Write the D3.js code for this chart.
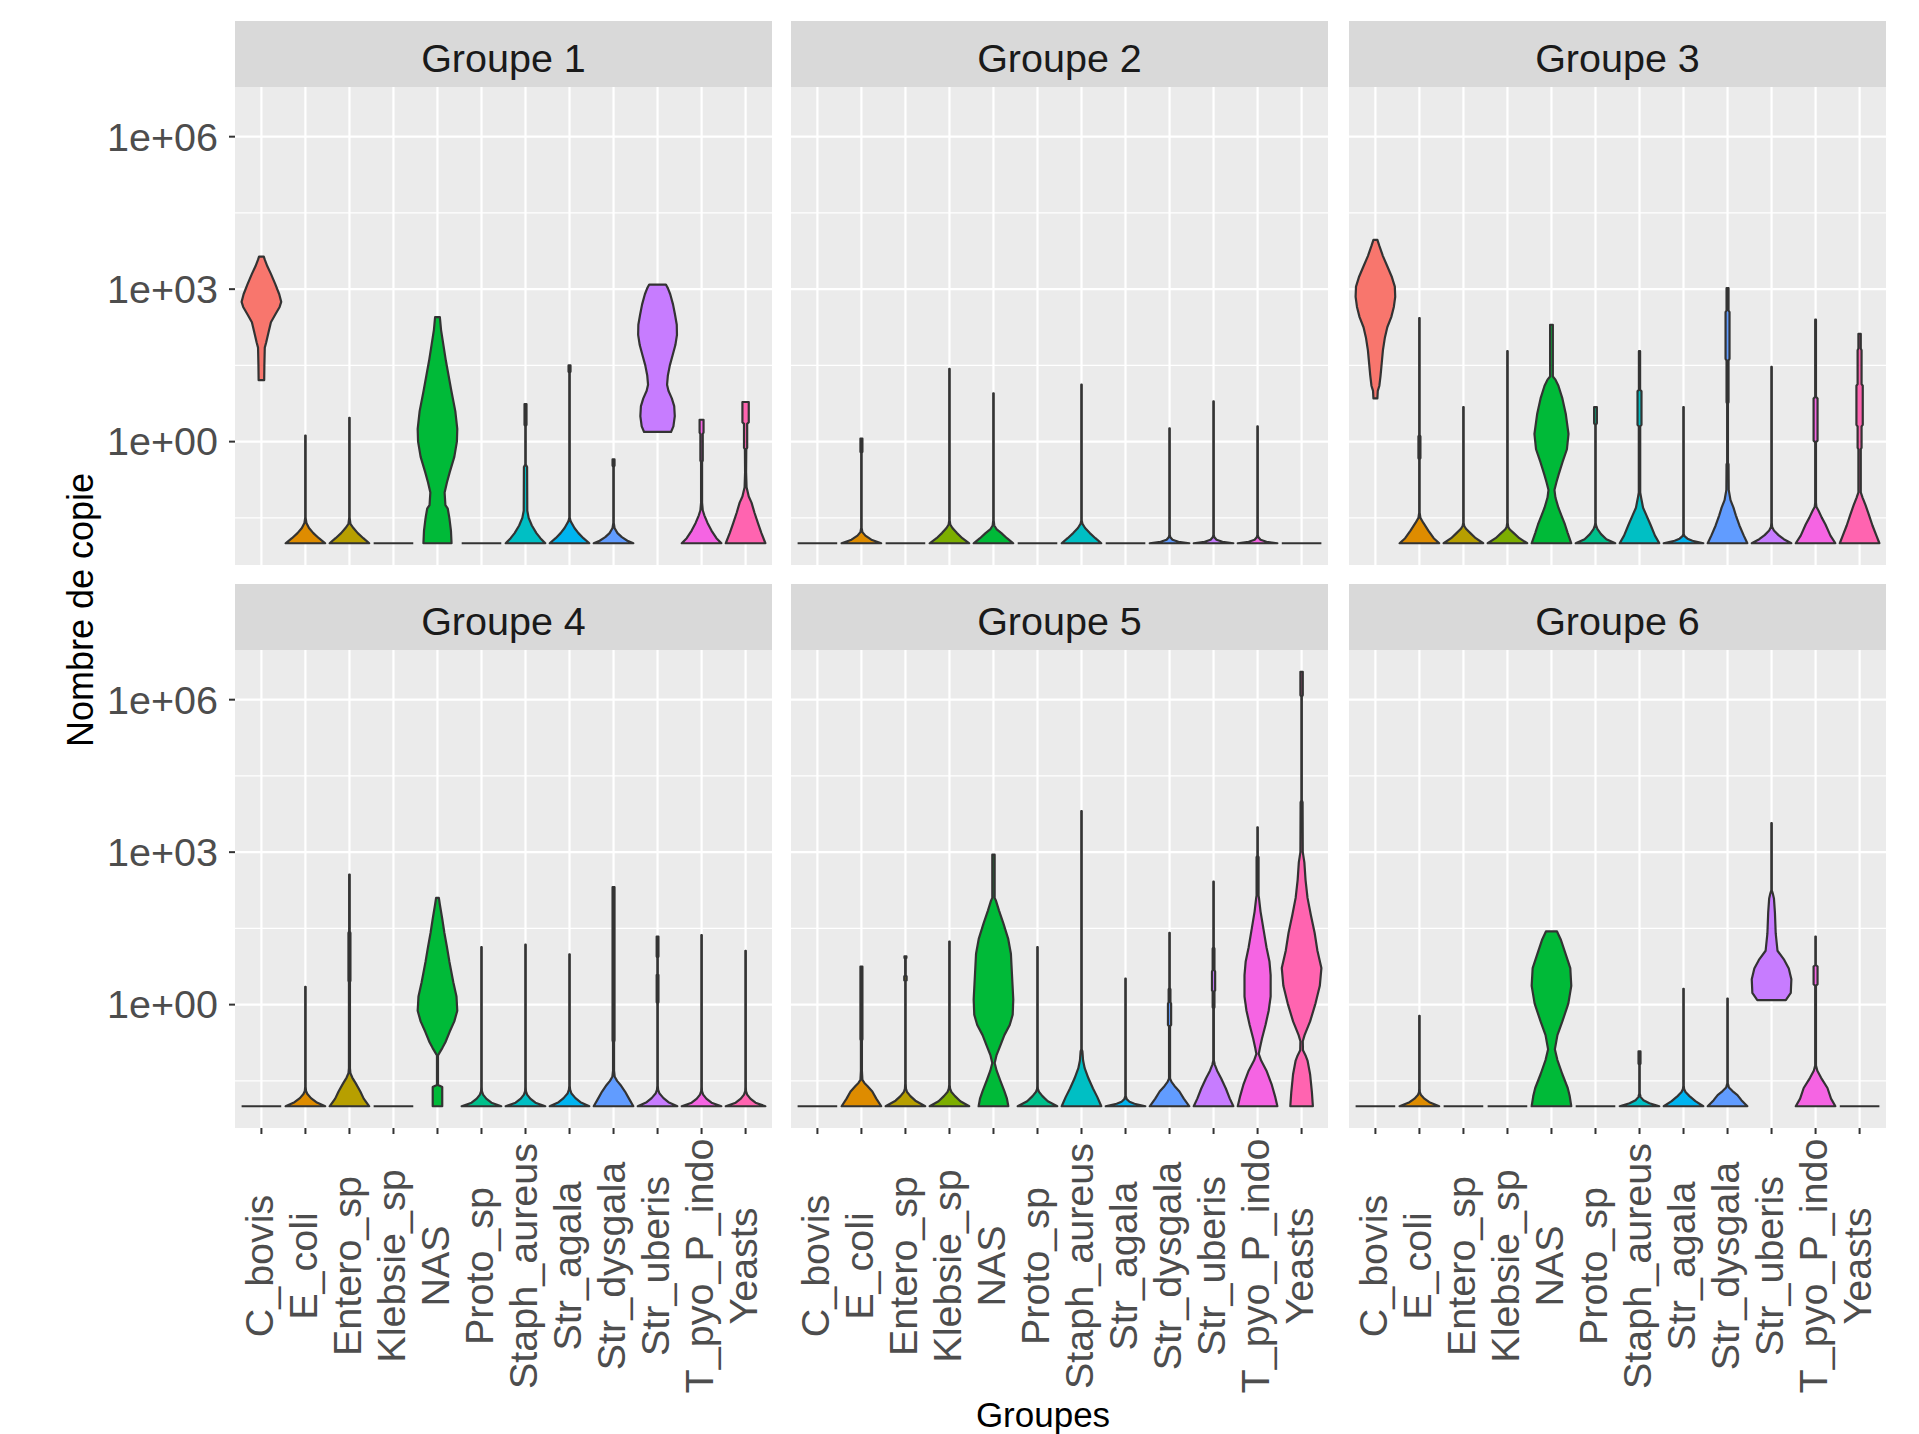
<!DOCTYPE html>
<html lang="fr">
<head>
<meta charset="utf-8">
<title>Nombre de copie par groupe</title>
<script src="https://d3js.org/d3.v7.min.js"></script>
<style>
  body { margin: 0; background: #ffffff; }
  text { font-family: "Liberation Sans", Arial, sans-serif; }
</style>
</head>
<body>
<div id="chart"></div>
<script>
// categories on the x axis (same in every facet) and ggplot hue colours
const categories = ["C_bovis", "E_coli", "Entero_sp", "Klebsie_sp", "NAS", "Proto_sp",
  "Staph_aureus", "Str_agala", "Str_dysgala", "Str_uberis", "T_pyo_P_indo", "Yeasts"];
const colours = ["#F8766D", "#DE8C00", "#B79F00", "#7CAE00", "#00BA38", "#00C08B",
  "#00BFC4", "#00B4F0", "#619CFF", "#C77CFF", "#F564E3", "#FF64B0"];
const groupNames = ["Groupe 1", "Groupe 2", "Groupe 3", "Groupe 4", "Groupe 5", "Groupe 6"];

const yTicks = [1, 1e3, 1e6];
const yTickLabels = ["1e+00", "1e+03", "1e+06"];

// violin outlines: [log10(copies), relative width 0..1]
// a single point means every value is 0.01 (flat line)
const g1 = [
  [[1.21,0.14],[1.5,0.15],[1.85,0.17],[1.95,0.24],[2.15,0.36],[2.35,0.48],[2.5,0.7],[2.65,0.92],[2.75,1.0],[2.9,0.9],[3.1,0.7],[3.3,0.48],[3.45,0.3],[3.58,0.17],[3.64,0.12]],
  [[-2,1],[-1.9,0.68],[-1.8,0.4],[-1.7,0.18],[-1.6,0.05],[-1.5,0.012],[0.12,0.012]],
  [[-2,1],[-1.9,0.7],[-1.8,0.42],[-1.7,0.2],[-1.62,0.05],[-1.5,0.012],[0.47,0.012]],
  [[-2,1]],
  [[-2,0.71],[-1.75,0.68],[-1.5,0.6],[-1.32,0.52],[-1.25,0.4],[-1.0,0.36],[-0.8,0.48],[-0.6,0.62],[-0.3,0.85],[0,0.98],[0.25,1.0],[0.6,0.9],[1.0,0.7],[1.3,0.56],[1.6,0.42],[1.9,0.3],[2.2,0.18],[2.45,0.12]],
  [[-2,1]],
  [[-2,1],[-1.9,0.75],[-1.8,0.55],[-1.65,0.32],[-1.5,0.16],[-1.36,0.09],[-0.5,0.08],[-0.45,0.012],[0.3,0.012],[0.33,0.05],[0.74,0.05]],
  [[-2,1],[-1.9,0.7],[-1.8,0.45],[-1.7,0.25],[-1.57,0.06],[-1.5,0.012],[1.35,0.012],[1.38,0.05],[1.5,0.05]],
  [[-2,1],[-1.95,0.7],[-1.88,0.42],[-1.8,0.2],[-1.7,0.05],[-1.6,0.012],[-0.5,0.012],[-0.47,0.05],[-0.35,0.05]],
  [[0.19,0.68],[0.3,0.8],[0.5,0.87],[0.7,0.84],[0.85,0.72],[1.0,0.55],[1.12,0.48],[1.3,0.52],[1.5,0.62],[1.7,0.76],[1.9,0.9],[2.1,0.98],[2.3,0.97],[2.5,0.88],[2.7,0.78],[2.9,0.64],[3.02,0.52],[3.09,0.42]],
  [[-2,1],[-1.9,0.75],[-1.75,0.5],[-1.6,0.3],[-1.45,0.14],[-1.35,0.06],[-1.2,0.025],[-0.4,0.025],[-0.37,0.06],[0.15,0.06],[0.18,0.1],[0.43,0.1]],
  [[-2,1],[-1.8,0.8],[-1.6,0.62],[-1.4,0.45],[-1.2,0.3],[-1.08,0.16],[-0.9,0.05],[-0.6,0.025],[-0.15,0.035],[-0.12,0.08],[0.35,0.08],[0.38,0.16],[0.78,0.16]]
];
const g2 = [
  [[-2,1]],
  [[-2,1],[-1.93,0.5],[-1.85,0.2],[-1.78,0.05],[-1.7,0.012],[-0.22,0.012],[-0.2,0.05],[0.06,0.05]],
  [[-2,1]],
  [[-2,1],[-1.9,0.65],[-1.8,0.38],[-1.7,0.15],[-1.63,0.04],[-1.55,0.012],[1.43,0.012]],
  [[-2,1],[-1.9,0.68],[-1.8,0.4],[-1.72,0.15],[-1.65,0.04],[-1.55,0.012],[0.95,0.012]],
  [[-2,1]],
  [[-2,1],[-1.9,0.7],[-1.8,0.42],[-1.7,0.18],[-1.62,0.05],[-1.55,0.012],[1.12,0.012]],
  [[-2,1]],
  [[-2,1],[-1.97,0.45],[-1.93,0.15],[-1.88,0.04],[-1.84,0.012],[0.26,0.012]],
  [[-2,1],[-1.97,0.45],[-1.93,0.15],[-1.88,0.04],[-1.84,0.012],[0.79,0.012]],
  [[-2,1],[-1.97,0.45],[-1.93,0.15],[-1.88,0.04],[-1.84,0.012],[0.3,0.012]],
  [[-2,1]]
];
const g3 = [
  [[0.85,0.1],[1.0,0.12],[1.1,0.2],[1.3,0.26],[1.55,0.32],[1.8,0.38],[2.05,0.48],[2.25,0.6],[2.45,0.8],[2.65,0.93],[2.85,1.0],[3.05,0.98],[3.25,0.82],[3.45,0.6],[3.65,0.38],[3.85,0.2],[3.97,0.1]],
  [[-2,1],[-1.9,0.72],[-1.75,0.45],[-1.6,0.2],[-1.5,0.05],[-1.4,0.012],[-0.35,0.012],[-0.32,0.05],[0.1,0.05],[0.13,0.012],[2.43,0.012]],
  [[-2,1],[-1.9,0.62],[-1.8,0.35],[-1.72,0.14],[-1.66,0.04],[-1.6,0.012],[0.68,0.012]],
  [[-2,1],[-1.9,0.6],[-1.8,0.32],[-1.73,0.12],[-1.68,0.04],[-1.6,0.012],[1.78,0.012]],
  [[-2,1],[-1.8,0.82],[-1.63,0.68],[-1.45,0.5],[-1.3,0.35],[-1.1,0.2],[-0.95,0.15],[-0.8,0.25],[-0.65,0.36],[-0.4,0.56],[-0.15,0.78],[0.15,0.86],[0.55,0.72],[0.85,0.55],[1.1,0.35],[1.22,0.2],[1.28,0.07],[2.3,0.07]],
  [[-2,1],[-1.92,0.55],[-1.82,0.28],[-1.72,0.1],[-1.65,0.03],[-1.6,0.012],[0.33,0.012],[0.36,0.07],[0.68,0.07]],
  [[-2,1],[-1.85,0.78],[-1.63,0.55],[-1.45,0.35],[-1.3,0.18],[-1.1,0.08],[-1.0,0.035],[0.3,0.035],[0.33,0.1],[0.99,0.1],[1.02,0.03],[1.78,0.03]],
  [[-2,1],[-1.95,0.45],[-1.91,0.2],[-1.86,0.05],[-1.82,0.012],[0.68,0.012]],
  [[-2,1],[-1.85,0.82],[-1.65,0.6],[-1.45,0.42],[-1.3,0.3],[-1.15,0.15],[-0.95,0.06],[-0.45,0.05],[-0.42,0.02],[0.75,0.02],[0.78,0.05],[1.6,0.05],[1.63,0.1],[2.55,0.1],[2.58,0.05],[3.02,0.05]],
  [[-2,1],[-1.92,0.62],[-1.84,0.35],[-1.75,0.12],[-1.68,0.03],[-1.6,0.012],[1.47,0.012]],
  [[-2,1],[-1.85,0.75],[-1.63,0.5],[-1.5,0.32],[-1.36,0.15],[-1.28,0.04],[-1.2,0.02],[-0.01,0.02],[0.02,0.1],[0.85,0.1],[0.88,0.02],[2.4,0.02]],
  [[-2,1],[-1.85,0.85],[-1.65,0.65],[-1.45,0.48],[-1.25,0.3],[-1.1,0.15],[-1.0,0.06],[-0.15,0.06],[-0.12,0.1],[0.3,0.1],[0.33,0.16],[1.1,0.16],[1.13,0.1],[1.8,0.1],[1.83,0.06],[2.12,0.06]]
];
const g4 = [
  [[-2,1]],
  [[-2,1],[-1.92,0.55],[-1.84,0.28],[-1.76,0.1],[-1.7,0.03],[-1.62,0.012],[0.35,0.012]],
  [[-2,1],[-1.85,0.72],[-1.71,0.55],[-1.55,0.32],[-1.44,0.15],[-1.35,0.05],[-1.25,0.025],[0.44,0.025],[0.47,0.05],[1.41,0.05],[1.44,0.015],[2.56,0.015]],
  [[-2,1]],
  [[-2,0.24],[-1.62,0.24],[-1.58,0.025],[-1.0,0.025],[-0.95,0.1],[-0.85,0.25],[-0.74,0.4],[-0.53,0.62],[-0.33,0.85],[-0.12,1.0],[0.16,0.96],[0.44,0.8],[0.85,0.6],[1.13,0.48],[1.41,0.35],[1.69,0.24],[1.97,0.12],[2.1,0.07]],
  [[-2,1],[-1.93,0.5],[-1.85,0.24],[-1.77,0.08],[-1.7,0.02],[-1.62,0.012],[1.13,0.012]],
  [[-2,1],[-1.93,0.5],[-1.85,0.24],[-1.77,0.08],[-1.7,0.02],[-1.62,0.012],[1.18,0.012]],
  [[-2,1],[-1.92,0.55],[-1.84,0.3],[-1.75,0.1],[-1.67,0.03],[-1.6,0.012],[0.99,0.012]],
  [[-2,1],[-1.85,0.78],[-1.71,0.58],[-1.58,0.35],[-1.5,0.18],[-1.42,0.06],[-1.3,0.025],[-0.74,0.025],[-0.7,0.05],[2.31,0.05]],
  [[-2,1],[-1.92,0.55],[-1.84,0.3],[-1.75,0.1],[-1.68,0.03],[-1.6,0.012],[0.02,0.012],[0.05,0.045],[0.58,0.045],[0.6,0.012],[0.92,0.012],[0.95,0.045],[1.34,0.045]],
  [[-2,1],[-1.93,0.5],[-1.85,0.24],[-1.77,0.08],[-1.7,0.02],[-1.62,0.012],[1.37,0.012]],
  [[-2,1],[-1.93,0.5],[-1.85,0.24],[-1.77,0.08],[-1.7,0.02],[-1.62,0.012],[1.06,0.012]]
];
const g5 = [
  [[-2,1]],
  [[-2,1],[-1.85,0.75],[-1.71,0.55],[-1.6,0.3],[-1.54,0.15],[-1.48,0.05],[-1.3,0.025],[-0.71,0.025],[-0.68,0.05],[0.75,0.05]],
  [[-2,1],[-1.89,0.5],[-1.8,0.25],[-1.72,0.08],[-1.65,0.025],[-1.55,0.012],[0.46,0.012],[0.48,0.06],[0.55,0.06],[0.58,0.015],[0.9,0.015],[0.92,0.05],[0.95,0.05]],
  [[-2,1],[-1.9,0.55],[-1.8,0.28],[-1.72,0.1],[-1.65,0.03],[-1.58,0.012],[1.24,0.012]],
  [[-2,0.75],[-1.85,0.68],[-1.7,0.55],[-1.5,0.35],[-1.3,0.16],[-1.15,0.06],[-1.0,0.15],[-0.8,0.35],[-0.6,0.55],[-0.4,0.82],[-0.2,0.97],[0.1,1.0],[0.4,0.96],[0.7,0.92],[1.0,0.88],[1.3,0.74],[1.6,0.5],[1.85,0.28],[2.05,0.12],[2.1,0.06],[2.95,0.06]],
  [[-2,1],[-1.9,0.52],[-1.8,0.25],[-1.72,0.08],[-1.66,0.02],[-1.6,0.012],[1.13,0.012]],
  [[-2,1],[-1.82,0.8],[-1.65,0.58],[-1.45,0.35],[-1.25,0.16],[-1.1,0.08],[-0.92,0.045],[-0.88,0.012],[3.81,0.012]],
  [[-2,1],[-1.95,0.45],[-1.91,0.2],[-1.86,0.06],[-1.8,0.012],[0.51,0.012]],
  [[-2,1],[-1.85,0.72],[-1.71,0.5],[-1.6,0.25],[-1.52,0.1],[-1.45,0.025],[-0.43,0.025],[-0.4,0.08],[0.02,0.08],[0.05,0.045],[0.3,0.045],[0.33,0.012],[1.41,0.012]],
  [[-2,1],[-1.85,0.82],[-1.65,0.62],[-1.45,0.38],[-1.3,0.18],[-1.18,0.06],[-1.1,0.015],[-0.08,0.015],[-0.05,0.045],[0.26,0.045],[0.28,0.08],[0.65,0.08],[0.68,0.045],[1.1,0.045],[1.13,0.012],[2.42,0.012]],
  [[-2,1],[-1.8,0.88],[-1.58,0.72],[-1.3,0.45],[-1.1,0.18],[-0.97,0.06],[-0.85,0.12],[-0.67,0.22],[-0.4,0.4],[-0.12,0.56],[0.16,0.66],[0.58,0.66],[0.85,0.6],[1.13,0.45],[1.48,0.3],[1.83,0.15],[2.1,0.07],[2.15,0.05],[2.9,0.05],[2.93,0.012],[3.49,0.012]],
  [[-2,0.57],[-1.72,0.52],[-1.37,0.43],[-1.1,0.3],[-1.0,0.2],[-0.9,0.07],[-0.72,0.06],[-0.6,0.15],[-0.33,0.43],[0.02,0.7],[0.37,0.92],[0.72,1.0],[1.06,0.8],[1.41,0.66],[1.76,0.47],[2.1,0.3],[2.45,0.2],[2.8,0.14],[3.0,0.06],[3.98,0.05],[4.02,0.012],[6.06,0.012],[6.09,0.06],[6.55,0.06]]
];
const g6 = [
  [[-2,1]],
  [[-2,1],[-1.92,0.5],[-1.85,0.25],[-1.78,0.08],[-1.72,0.02],[-1.65,0.012],[-0.22,0.012]],
  [[-2,1]],
  [[-2,1]],
  [[-2,1],[-1.8,0.92],[-1.64,0.82],[-1.37,0.55],[-1.09,0.3],[-0.88,0.17],[-0.6,0.3],[-0.33,0.55],[0.02,0.85],[0.37,1.0],[0.72,0.95],[0.99,0.72],[1.27,0.48],[1.44,0.28]],
  [[-2,1]],
  [[-2,1],[-1.94,0.5],[-1.88,0.2],[-1.82,0.06],[-1.75,0.012],[-1.19,0.012],[-1.16,0.05],[-0.92,0.05]],
  [[-2,1],[-1.9,0.6],[-1.8,0.3],[-1.72,0.1],[-1.66,0.03],[-1.6,0.012],[0.31,0.012]],
  [[-2,1],[-1.88,0.7],[-1.78,0.5],[-1.7,0.25],[-1.63,0.07],[-1.55,0.012],[0.12,0.012]],
  [[0.09,0.72],[0.23,0.97],[0.5,1.0],[0.71,0.87],[0.88,0.64],[1.06,0.3],[1.4,0.21],[1.81,0.17],[2.09,0.12],[2.19,0.06],[2.25,0.012],[3.57,0.012]],
  [[-2,1],[-1.85,0.78],[-1.64,0.6],[-1.44,0.28],[-1.3,0.09],[-1.2,0.02],[0.37,0.02],[0.4,0.1],[0.75,0.1],[0.78,0.012],[1.34,0.012]],
  [[-2,1]]
];
const groupProfiles = [g1, g2, g3, g4, g5, g6];

// layout (pixels)
const W = 1919, H = 1434;
const panelX = [235, 791, 1349];
const panelW = 537;
const stripTop = [21, 584];
const stripH = 66;
const plotH = 478;
const fontTick = 39.5;

const svg = d3.select("#chart").append("svg")
  .attr("width", W).attr("height", H)
  .attr("viewBox", [0, 0, W, H]);
svg.append("rect").attr("width", W).attr("height", H).attr("fill", "#ffffff");

// shared scales (facet_wrap with fixed scales)
const x = d3.scalePoint().domain(categories).range([0, panelW]).padding(0.6);
const allExp = groupProfiles.flat(2).map(d => d[0]);
const lo = d3.min(allExp), hi = d3.max(allExp);
const pad = (hi - lo) * 0.05;
const y = d3.scaleLog().domain([10 ** (lo - pad), 10 ** (hi + pad)]).range([plotH, 0]);
const minorBreaks = [-1.5, 1.5, 4.5].map(e => 10 ** e);
const half = x.step() * 0.45;
const colour = d3.scaleOrdinal().domain(categories).range(colours);

groupNames.forEach((name, i) => {
  const col = i % 3, row = Math.floor(i / 3);
  const px = panelX[col];
  const py = stripTop[row] + stripH;

  // strip
  svg.append("rect")
    .attr("x", px).attr("y", stripTop[row])
    .attr("width", panelW).attr("height", stripH)
    .attr("fill", "#D9D9D9");
  svg.append("text")
    .attr("x", px + panelW / 2).attr("y", stripTop[row] + 51)
    .attr("text-anchor", "middle")
    .attr("font-size", fontTick)
    .attr("fill", "#1A1A1A")
    .text(name);

  const g = svg.append("g").attr("transform", `translate(${px},${py})`);
  g.append("rect").attr("width", panelW).attr("height", plotH).attr("fill", "#EBEBEB");

  g.selectAll(".minor").data(minorBreaks).join("line")
    .attr("x1", 0).attr("x2", panelW)
    .attr("y1", d => y(d)).attr("y2", d => y(d))
    .attr("stroke", "#ffffff").attr("stroke-width", 1.1);
  g.selectAll(".major").data(yTicks).join("line")
    .attr("x1", 0).attr("x2", panelW)
    .attr("y1", d => y(d)).attr("y2", d => y(d))
    .attr("stroke", "#ffffff").attr("stroke-width", 2.2);
  g.selectAll(".vgrid").data(categories).join("line")
    .attr("x1", d => x(d)).attr("x2", d => x(d))
    .attr("y1", 0).attr("y2", plotH)
    .attr("stroke", "#ffffff").attr("stroke-width", 2.2);

  // violins
  groupProfiles[i].forEach((prof, k) => {
    const cat = categories[k];
    const cx = x(cat);
    if (prof.length === 1) {
      g.append("line")
        .attr("x1", cx - half).attr("x2", cx + half)
        .attr("y1", y(10 ** prof[0][0])).attr("y2", y(10 ** prof[0][0]))
        .attr("stroke", "#333333").attr("stroke-width", 2.2);
      return;
    }
    const area = d3.area()
      .y(d => y(10 ** d[0]))
      .x0(d => cx - d[1] * half)
      .x1(d => cx + d[1] * half);
    g.append("path")
      .datum(prof)
      .attr("d", area)
      .attr("fill", colour(cat))
      .attr("stroke", "#333333")
      .attr("stroke-width", 2.2)
      .attr("stroke-linejoin", "round");
  });

  // y axis on the left column
  if (col === 0) {
    yTicks.forEach((t, j) => {
      svg.append("line")
        .attr("x1", px - 6).attr("x2", px)
        .attr("y1", py + y(t)).attr("y2", py + y(t))
        .attr("stroke", "#333333").attr("stroke-width", 2);
      svg.append("text")
        .attr("x", px - 17).attr("y", py + y(t))
        .attr("dy", "0.35em")
        .attr("text-anchor", "end")
        .attr("font-size", fontTick)
        .attr("fill", "#4D4D4D")
        .text(yTickLabels[j]);
    });
  }

  // x axis on the bottom row
  if (row === 1) {
    categories.forEach(c => {
      svg.append("line")
        .attr("x1", px + x(c)).attr("x2", px + x(c))
        .attr("y1", py + plotH).attr("y2", py + plotH + 6)
        .attr("stroke", "#333333").attr("stroke-width", 2);
      svg.append("text")
        .attr("transform", `translate(${px + x(c)},1266) rotate(-90)`)
        .attr("y", 11.5)
        .attr("text-anchor", "middle")
        .attr("font-size", fontTick)
        .attr("fill", "#4D4D4D")
        .text(c);
    });
  }
});

// axis titles
svg.append("text")
  .attr("transform", "translate(93,610) rotate(-90)")
  .attr("text-anchor", "middle")
  .attr("font-size", 36)
  .attr("fill", "#000000")
  .text("Nombre de copie");
svg.append("text")
  .attr("x", 1043).attr("y", 1427)
  .attr("text-anchor", "middle")
  .attr("font-size", 35)
  .attr("fill", "#000000")
  .text("Groupes");
</script>
</body>
</html>
